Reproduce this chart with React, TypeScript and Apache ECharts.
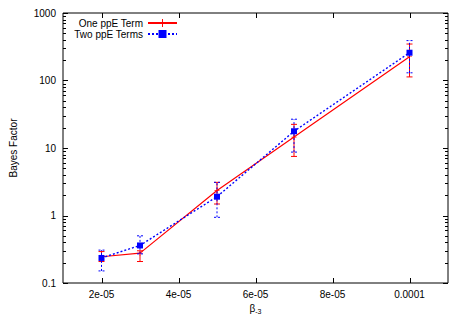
import React, { useEffect, useRef } from "react";
import * as echarts from "echarts";

const betaValues = [2e-5, 3e-5, 5e-5, 7e-5, 1e-4];
const oneTerm = [0.245, 0.277, 2.34, 14.5, 225];
const oneTermLow = [0.208, 0.208, 1.48, 7.5, 113];
const oneTermHigh = [0.292, 0.3, 3.1, 22.4, 347];
const twoTerms = [0.235, 0.36, 1.9, 17.7, 258];
const twoTermsLow = [0.151, 0.27, 0.94, 8.7, 130];
const twoTermsHigh = [0.307, 0.5, 3.1, 26.7, 390];
const xTickValues = [2e-5, 4e-5, 6e-5, 8e-5, 1e-4];
const xTickLabels = ["2e-05", "4e-05", "6e-05", "8e-05", "0.0001"];
const yTickValues = [0.1, 1, 10, 100, 1000];
const yTickLabels = ["0.1", "1", "10", "100", "1000"];
const seriesNames = ["One ppE Term", "Two ppE Terms"];

const X_MIN = 1e-5;
const X_MAX = 1.1e-4;
const Y_MIN = 0.1;
const Y_MAX = 1000;

const FONT = "Arial, 'Liberation Sans', sans-serif";

function nearestLabel(v: number, values: number[], labels: string[], log: boolean): string {
  let best = 0;
  const f = (a: number) => (log ? Math.log10(a) : a);
  for (let i = 1; i < values.length; i++) {
    if (Math.abs(f(values[i]) - f(v)) < Math.abs(f(values[best]) - f(v))) best = i;
  }
  return labels[best];
}

// tick marks: [x, y, kind] kind 0 = y major, 1 = y minor, 2 = x major
const tickData: number[][] = [];
yTickValues.forEach((v, i) => {
  tickData.push([X_MIN, v, 0]);
  if (i < yTickValues.length - 1) {
    for (let m = 2; m <= 9; m++) tickData.push([X_MIN, v * m, 1]);
  }
});
xTickValues.forEach((v) => tickData.push([v, Y_MIN, 2]));

function errorSeries(lo: number[], hi: number[], color: string, dash: number[] | null, z: number) {
  return {
    type: "custom",
    name: "err" + color,
    z,
    data: betaValues.map((x, i) => [x, lo[i], hi[i]]),
    encode: { x: 0, y: [1, 2] },
    renderItem: (params: any, api: any) => {
      const x = api.value(0);
      const p1 = api.coord([x, api.value(1)]);
      const p2 = api.coord([x, api.value(2)]);
      const style: any = { stroke: color, lineWidth: 1, lineDash: dash || undefined };
      const cw = 3;
      return {
        type: "group",
        children: [
          { type: "line", shape: { x1: p1[0], y1: p1[1], x2: p2[0], y2: p2[1] }, style },
          { type: "line", shape: { x1: p1[0] - cw, y1: p1[1], x2: p1[0] + cw, y2: p1[1] }, style },
          { type: "line", shape: { x1: p2[0] - cw, y1: p2[1], x2: p2[0] + cw, y2: p2[1] }, style },
        ],
      };
    },
  };
}

const tickSeries = {
  type: "custom",
  name: "ticks",
  z: 1,
  silent: true,
  clip: false,
  data: tickData,
  encode: { x: 0, y: 1 },
  renderItem: (params: any, api: any) => {
    const cs = params.coordSys;
    const p = api.coord([api.value(0), api.value(1)]);
    const kind = api.value(2);
    const style = { stroke: "#000", lineWidth: 1 };
    if (kind === 2) {
      const x = Math.round(p[0]) + 0.5;
      const yb = cs.y + cs.height;
      return {
        type: "group",
        children: [
          { type: "line", shape: { x1: x, y1: yb, x2: x, y2: yb - 5 }, style },
          { type: "line", shape: { x1: x, y1: cs.y, x2: x, y2: cs.y + 5 }, style },
        ],
      };
    }
    const y = Math.round(p[1]) + 0.5;
    const len = kind === 0 ? 5 : 3;
    const xl = cs.x;
    const xr = cs.x + cs.width;
    return {
      type: "group",
      children: [
        { type: "line", shape: { x1: xl, y1: y, x2: xl + len, y2: y }, style },
        { type: "line", shape: { x1: xr, y1: y, x2: xr - len, y2: y }, style },
      ],
    };
  },
};

export default function App() {
  const ref = useRef<HTMLDivElement>(null);
  useEffect(() => {
    if (!ref.current) return;
    const chart = echarts.init(ref.current, null, { renderer: "svg" });
    chart.setOption({
      animation: false,
      backgroundColor: "#fff",
      textStyle: { fontFamily: FONT },
      grid: {
        left: 57,
        right: 19,
        top: 13,
        bottom: 44,
        containLabel: false,
        show: true,
        borderColor: "#000",
        borderWidth: 1,
        backgroundColor: "transparent",
      },
      legend: {
        data: seriesNames,
        orient: "vertical",
        align: "right",
        right: 289,
        top: 18,
        padding: 0,
        itemGap: 1,
        itemWidth: 29,
        itemHeight: 10,
        textStyle: { fontSize: 10, color: "#000", fontFamily: FONT },
      },
      xAxis: {
        type: "value",
        min: X_MIN,
        max: X_MAX,
        axisLine: { show: false },
        splitLine: { show: false },
        axisTick: { show: false },
        axisLabel: {
          show: true,
          customValues: xTickValues,
          formatter: (v: number) => nearestLabel(v, xTickValues, xTickLabels, false),
          fontSize: 10,
          color: "#000",
          margin: 6,
          fontFamily: FONT,
        },
        name: "{b|β}{s|-3}",
        nameLocation: "middle",
        nameGap: 19,
        nameTextStyle: {
          rich: {
            b: { fontSize: 10, color: "#000", fontFamily: FONT },
            s: { fontSize: 7, color: "#000", fontFamily: FONT, padding: [6, 0, 0, 0] },
          },
        },
      },
      yAxis: {
        type: "log",
        logBase: 10,
        min: Y_MIN,
        max: Y_MAX,
        axisLine: { show: false },
        splitLine: { show: false },
        axisTick: { show: false },
        minorTick: { show: false },
        axisLabel: {
          show: true,
          formatter: (v: number) => nearestLabel(v, yTickValues, yTickLabels, true),
          fontSize: 10,
          color: "#000",
          margin: 7,
          fontFamily: FONT,
        },
        name: "Bayes Factor",
        nameLocation: "middle",
        nameRotate: 90,
        nameGap: 45,
        nameTextStyle: { fontSize: 10, color: "#000", fontFamily: FONT },
      },
      series: [
        tickSeries,
        errorSeries(oneTermLow, oneTermHigh, "#ff0000", null, 2),
        {
          type: "line",
          name: seriesNames[0],
          z: 3,
          data: betaValues.map((x, i) => [x, oneTerm[i]]),
          symbol: "path://M-0.12,-1H0.12V-0.12H1V0.12H0.12V1H-0.12V0.12H-1V-0.12H-0.12Z",
          symbolSize: 5,
          showSymbol: true,
          itemStyle: { color: "#ff0000" },
          lineStyle: { color: "#ff0000", width: 1.2 },
        },
        errorSeries(twoTermsLow, twoTermsHigh, "#0000ff", [2, 2], 4),
        {
          type: "line",
          name: seriesNames[1],
          z: 5,
          data: betaValues.map((x, i) => [x, twoTerms[i]]),
          symbol: "rect",
          symbolSize: 6,
          showSymbol: true,
          itemStyle: { color: "#0000ff" },
          lineStyle: { color: "#0000ff", width: 1.4, type: [2, 2] },
        },
      ],
    });
    return () => chart.dispose();
  }, []);
  return (
    <div
      ref={ref}
      style={{ position: "absolute", left: 0, top: 0, width: 467, height: 327, background: "#fff" }}
    />
  );
}
